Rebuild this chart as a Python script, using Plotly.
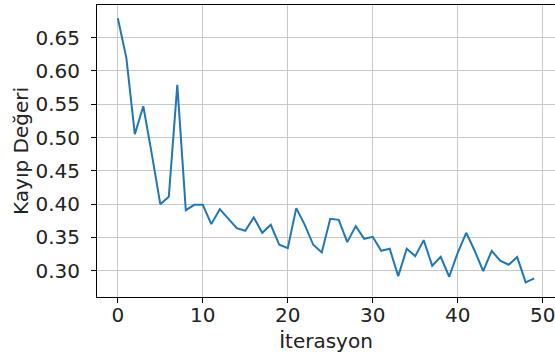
import plotly.graph_objects as go

iterations = list(range(50))
loss = [0.679, 0.620, 0.505, 0.547, 0.475, 0.400, 0.411, 0.579, 0.391, 0.399,
        0.399, 0.370, 0.3925, 0.3775, 0.364, 0.360, 0.380, 0.357, 0.369, 0.339,
        0.334, 0.394, 0.369, 0.339, 0.3275, 0.378, 0.3765, 0.343, 0.367, 0.348,
        0.351, 0.330, 0.333, 0.292, 0.333, 0.322, 0.346, 0.3075, 0.321, 0.291,
        0.327, 0.357, 0.330, 0.2995, 0.330, 0.315, 0.309, 0.3205, 0.2825, 0.2885]
x_ticks = [0, 10, 20, 30, 40, 50]
y_ticks = [0.30, 0.35, 0.40, 0.45, 0.50, 0.55, 0.60, 0.65]
y_ticklabels = ["0.30", "0.35", "0.40", "0.45", "0.50", "0.55", "0.60", "0.65"]

fig = go.Figure(go.Scatter(x=iterations, y=loss, mode="lines",
                           line=dict(color="#1f77b4", width=2)))

font = dict(family="DejaVu Sans", size=20, color="#222222")
fig.update_layout(
    width=555, height=363,
    margin=dict(l=97, r=0, t=5, b=66),
    paper_bgcolor="white", plot_bgcolor="white",
    showlegend=False,
    font=font,
)
fig.update_xaxes(
    range=[-2.45, 51.45], tickvals=x_ticks, ticks="outside", ticklen=5,
    tickcolor="black", showgrid=True, gridcolor="#c8c8c8", gridwidth=1,
    showline=True, linecolor="black", linewidth=1, mirror=True, zeroline=False,
    title=dict(text="İterasyon", font=font, standoff=7), tickfont=font,
    automargin=False, ticklabelstandoff=-5, ticklabeloverflow="allow",
)
fig.update_yaxes(
    range=[0.2606, 0.699], tickvals=y_ticks, ticktext=y_ticklabels,
    ticks="outside", ticklen=5, tickcolor="black", showgrid=True,
    gridcolor="#c8c8c8", gridwidth=1, showline=True, linecolor="black",
    linewidth=1, mirror=True, zeroline=False,
    title=dict(text="Kayıp Değeri", font=font, standoff=1), tickfont=font,
    automargin=False, ticklabelstandoff=7,
)
fig.write_html("out.html", config={"displayModeBar": False},
               post_script="document.body.style.margin='0px';")
